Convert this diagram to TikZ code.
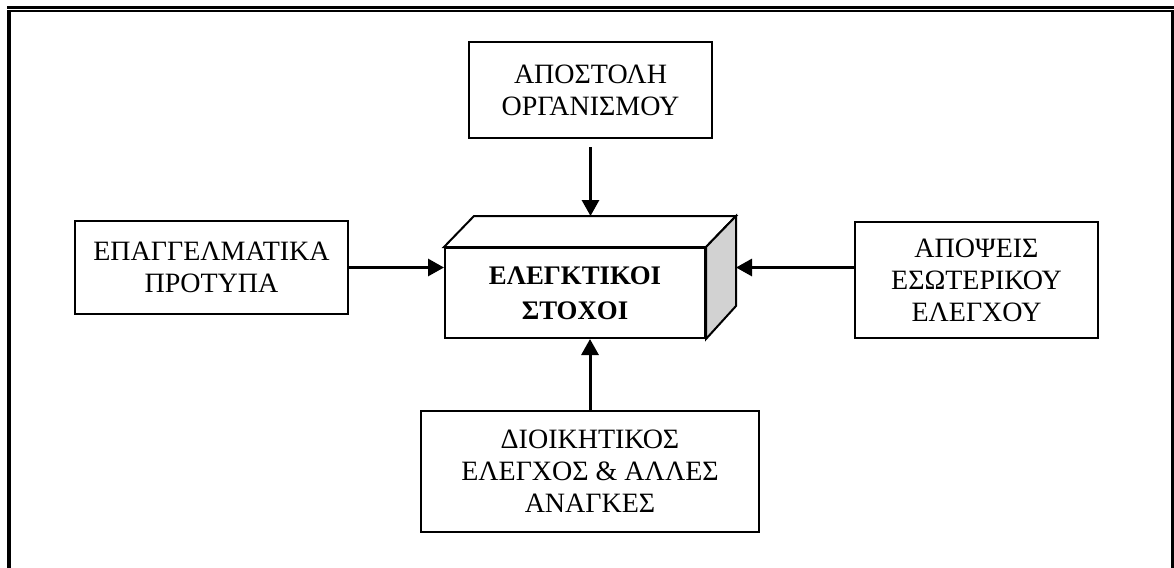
\documentclass[tikz,border=0pt]{standalone}
\usepackage{fontspec}
\setmainfont{Liberation Serif}
\usetikzlibrary{arrows.meta,calc}

\begin{document}
\begin{tikzpicture}[x=0.5pt,y=-0.5pt,
  box/.style={draw, line width=1pt, align=center, inner sep=0pt,
    font=\fontsize{14}{16}\selectfont},
  goal/.style={draw, line width=1pt, align=center, inner sep=0pt, fill=white,
    font=\fontsize{13.4}{17.5}\selectfont\bfseries},
  feed/.style={line width=1.5pt, -{Triangle[length=8pt,width=8.5pt]}}]
\useasboundingbox (0,0) rectangle (1174,568);
% frame round the figure
\draw[line width=1.2pt] (7,7.5) -- (1174,7.5);
\draw[line width=1pt] (7,11) -- (1174,11);
\draw[line width=1.75pt] (9,10.5) -- (9,568);
\draw[line width=1.25pt] (1172.6,10.5) -- (1172.6,568);

% sources
\node[box, minimum width=121.5pt, minimum height=48pt] (mission) at (590.5,90) {ΑΠΟΣΤΟΛΗ\\ΟΡΓΑΝΙΣΜΟΥ};
\node[box, minimum width=136.5pt, minimum height=46.5pt] (standards) at (211.5,267.5) {ΕΠΑΓΓΕΛΜΑΤΙΚΑ\\ΠΡΟΤΥΠΑ};
\node[box, minimum width=121.5pt, minimum height=58pt] (views) at (976.5,280) {ΑΠΟΨΕΙΣ\\ΕΣΩΤΕΡΙΚΟΥ\\ΕΛΕΓΧΟΥ};
\node[box, minimum width=169pt, minimum height=60.5pt] (needs) at (590,471.5) {ΔΙΟΙΚΗΤΙΚΟΣ\\ΕΛΕΓΧΟΣ \& ΑΛΛΕΣ\\ΑΝΑΓΚΕΣ};

% the block in the middle
\node[goal, minimum width=130pt, minimum height=45pt] (goals) at (575,293) {ΕΛΕΓΚΤΙΚΟΙ\\ΣΤΟΧΟΙ};
\coordinate (back) at ($(goals.north east)+(30,-31)$);
\draw[line width=1pt, fill=white] (goals.north west) -- ++(30,-31) -- (back) -- (goals.north east) -- cycle;
\draw[line width=1pt, fill=gray!35] (goals.north east) -- (back) -- ++(0,90) -- (goals.south east) -- cycle;

% arrows into the block
\draw[feed, shorten <=4pt] (mission) -- (mission.south |- back);
\draw[feed] (standards) -- (standards -| goals.west);
\draw[feed] (views.west |- standards) -- (standards -| back);
\draw[feed] (needs) -- (needs |- goals.south);
\end{tikzpicture}
\end{document}
